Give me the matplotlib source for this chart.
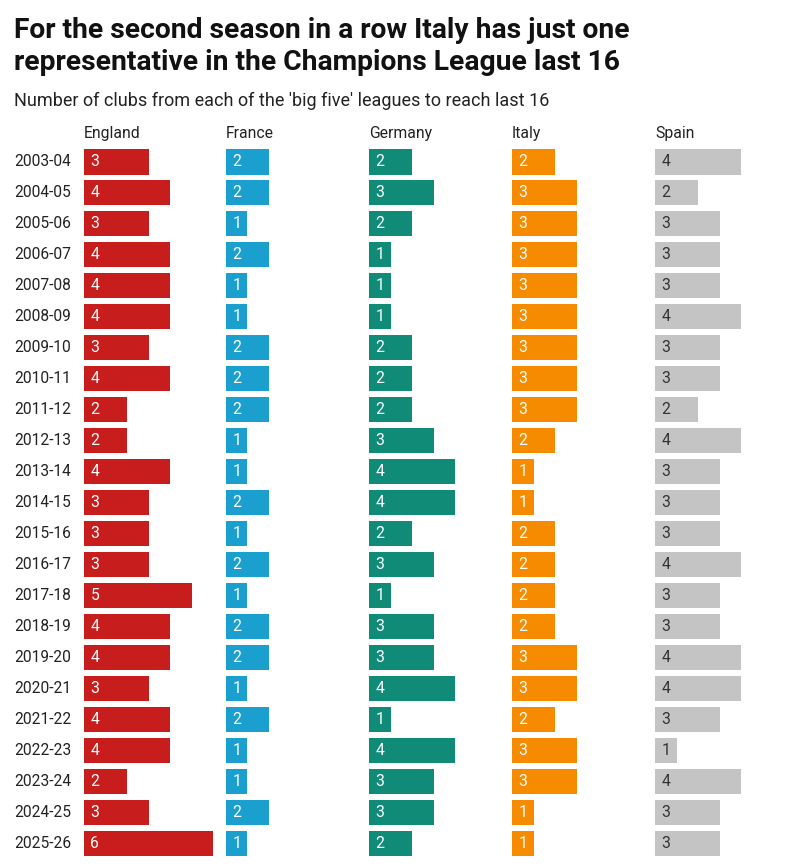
import matplotlib
matplotlib.use("Agg")
import matplotlib.pyplot as plt

seasons = ["2003-04", "2004-05", "2005-06", "2006-07", "2007-08", "2008-09",
           "2009-10", "2010-11", "2011-12", "2012-13", "2013-14", "2014-15",
           "2015-16", "2016-17", "2017-18", "2018-19", "2019-20", "2020-21",
           "2021-22", "2022-23", "2023-24", "2024-25", "2025-26"]
leagues = ["England", "France", "Germany", "Italy", "Spain"]
england = [3, 4, 3, 4, 4, 4, 3, 4, 2, 2, 4, 3, 3, 3, 5, 4, 4, 3, 4, 4, 2, 3, 6]
france = [2, 2, 1, 2, 1, 1, 2, 2, 2, 1, 1, 2, 1, 2, 1, 2, 2, 1, 2, 1, 1, 2, 1]
germany = [2, 3, 2, 1, 1, 1, 2, 2, 2, 3, 4, 4, 2, 3, 1, 3, 3, 4, 1, 4, 3, 3, 2]
italy = [2, 3, 3, 3, 3, 3, 3, 3, 3, 2, 1, 1, 2, 2, 2, 2, 3, 3, 2, 3, 3, 1, 1]
spain = [4, 2, 3, 3, 3, 4, 3, 3, 2, 4, 3, 3, 3, 4, 3, 3, 4, 4, 3, 1, 4, 3, 3]

colors = ["#c71e1d", "#1b9fce", "#0f8b78", "#f68b00", "#c4c4c4"]
text_colors = ["white", "white", "white", "white", "#333333"]

plt.rcParams["font.family"] = ["Roboto", "DejaVu Sans"]

W, H = 800, 867
fig = plt.figure(figsize=(W / 100, H / 100), dpi=100)

# title, two lines placed separately
title_lines = ["For the second season in a row Italy has just one",
               "representative in the Champions League last 16"]
for y, line in zip([30, 62], title_lines):
    fig.text(14 / W, 1 - y / H, line, fontsize=20.3, fontweight="bold",
             color="#111111", va="center", ha="left")
fig.text(14 / W, 1 - 101 / H,
         "Number of clubs from each of the 'big five' leagues to reach last 16",
         fontsize=13, color="#222222", va="center", ha="left")

unit = 21.5
pitch = 30.96
top = 146.5
ax_h = pitch * len(seasons)
lefts = [84, 226, 369, 512, 655]
ax_w = 135

series = [england, france, germany, italy, spain]
for k, (name, vals) in enumerate(zip(leagues, series)):
    ax = fig.add_axes([lefts[k] / W, 1 - (top + ax_h) / H, ax_w / W, ax_h / H])
    ys = list(range(len(seasons)))
    ax.barh(ys, vals, height=0.81, color=colors[k], left=0)
    for y, v in zip(ys, vals):
        ax.text(0.3, y, str(v), color=text_colors[k], fontsize=11.3,
                va="center", ha="left")
    ax.set_xlim(0, ax_w / unit)
    ax.set_ylim(len(seasons) - 0.5, -0.5)
    ax.axis("off")
    fig.text(lefts[k] / W, 1 - 138 / H, name, fontsize=11.3, color="#222222",
             va="baseline", ha="left")
    if k == 0:
        for y, s in zip(ys, seasons):
            ax.text(-70 / unit, y, s, fontsize=11.2, color="#222222",
                    va="center", ha="left", clip_on=False)

fig.savefig("out.png", dpi=100, facecolor="white")
